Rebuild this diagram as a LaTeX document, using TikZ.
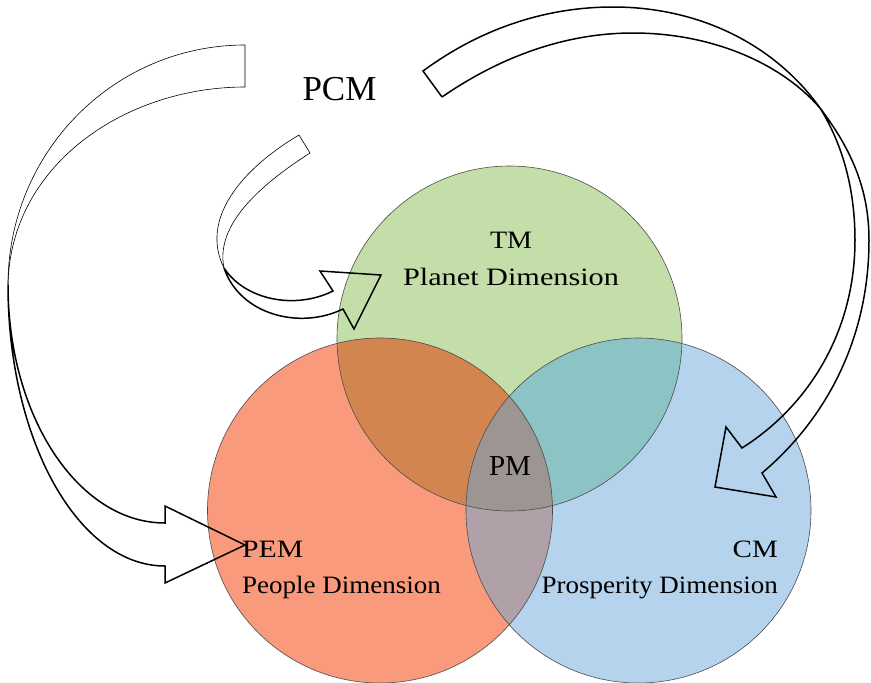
\documentclass[tikz,border=0pt]{standalone}
\usepackage{fontspec}
\setmainfont{Liberation Serif}
\usepackage{graphicx}
\newcommand{\sx}[2]{\scalebox{#1}[1]{#2}}
\definecolor{cG}{RGB}{195,222,168}
\definecolor{cR}{RGB}{249,154,124}
\definecolor{cB}{RGB}{181,211,236}
\definecolor{cRG}{RGB}{211,133,80}
\definecolor{cGB}{RGB}{140,195,197}
\definecolor{cRB}{RGB}{176,160,168}
\definecolor{cRGB}{RGB}{157,149,146}
\begin{document}
\begin{tikzpicture}[x=1pt,y=-1pt,
  lbl/.style={inner sep=0pt, font=\fontsize{25}{30}\selectfont},
  thinline/.style={line width=0.6pt, line join=miter},
  thickline/.style={line width=1.5pt, line join=miter},
  ring/.style={draw=black!70, line width=0.6pt}]
\useasboundingbox (0,0) rectangle (871,683);
\fill[white] (0,0) rectangle (871,683);
\coordinate (G) at (509.5,338.5);
\coordinate (R) at (380,510.5);
\coordinate (B) at (638.5,510.5);
\def\rad{172.5pt}
% circle fills
\fill[cG] (G) circle[radius=\rad];
\fill[cR] (R) circle[radius=\rad];
\fill[cB] (B) circle[radius=\rad];
\begin{scope}
  \clip (G) circle[radius=\rad];
  \fill[cRG] (R) circle[radius=\rad];
  \fill[cGB] (B) circle[radius=\rad];
\end{scope}
\begin{scope}
  \clip (R) circle[radius=\rad];
  \fill[cRB] (B) circle[radius=\rad];
  \clip (B) circle[radius=\rad];
  \fill[cRGB] (G) circle[radius=\rad];
\end{scope}
\draw[ring] (G) circle[radius=\rad];
\draw[ring] (R) circle[radius=\rad];
\draw[ring] (B) circle[radius=\rad];
% big left arrow
\draw[thinline] (245,87) -- (245,45) .. controls (114,45) and (8,152) .. (8,285);
\draw[thinline] (245,87) .. controls (125,87) and (10,165) .. (8,285);
\draw[thickline] (8,285) .. controls (8,440) and (78,566) .. (165,566) -- (165,583) -- (245,545) -- (165,506) -- (165,523) .. controls (78,523) and (8,416) .. (8,285);
% small arrow
\draw[thinline] (310,153) -- (299,135) .. controls (240,170) and (200,220) .. (224,268);
\draw[thinline] (310,153) .. controls (260,185) and (215,225) .. (224,268);
\draw[thickline] (224,268) .. controls (240,315) and (300,330) .. (343,309) -- (354,329) -- (381,275) -- (320,271) -- (333,291) .. controls (295,310) and (245,300) .. (224,268);
% right arrow
\draw[thickline] (442,97) -- (423,71) .. controls (480,29) and (545,7) .. (613,7) .. controls (700,7) and (775,45) .. (820,108);
\draw[thickline] (442,97) .. controls (500,57) and (565,33) .. (633,33) .. controls (710,33) and (780,62) .. (820,108);
\draw[thickline] (820,108) .. controls (852,150) and (869,190) .. (869,240) .. controls (869,340) and (825,420) .. (762,473) -- (776,497) -- (715,487) -- (726,427) -- (742,448) .. controls (810,405) and (855,330) .. (855,240) .. controls (855,190) and (843,145) .. (820,108);
% labels
\node[lbl, anchor=base] (pcm) at (339.5,100) {\fontsize{35}{40}\selectfont PCM};
\node[lbl, anchor=base] (tm) at (511,248) {\sx{1.12}{TM}};
\node[lbl, anchor=base] (tmd) at (511,285) {\sx{1.21}{Planet Dimension}};
\node[lbl, anchor=base west] (pem) at (242,557) {\sx{1.19}{PEM}};
\node[lbl, anchor=base west] (pemd) at (242,593) {\sx{1.08}{People Dimension}};
\node[lbl, anchor=base east] (cm) at (778,557) {\sx{1.16}{CM}};
\node[lbl, anchor=base east] (cmd) at (778,593) {\sx{1.08}{Prosperity Dimension}};
\node[lbl, anchor=base] (pm) at (510,475) {\fontsize{29}{34}\selectfont PM};
\end{tikzpicture}
\end{document}
